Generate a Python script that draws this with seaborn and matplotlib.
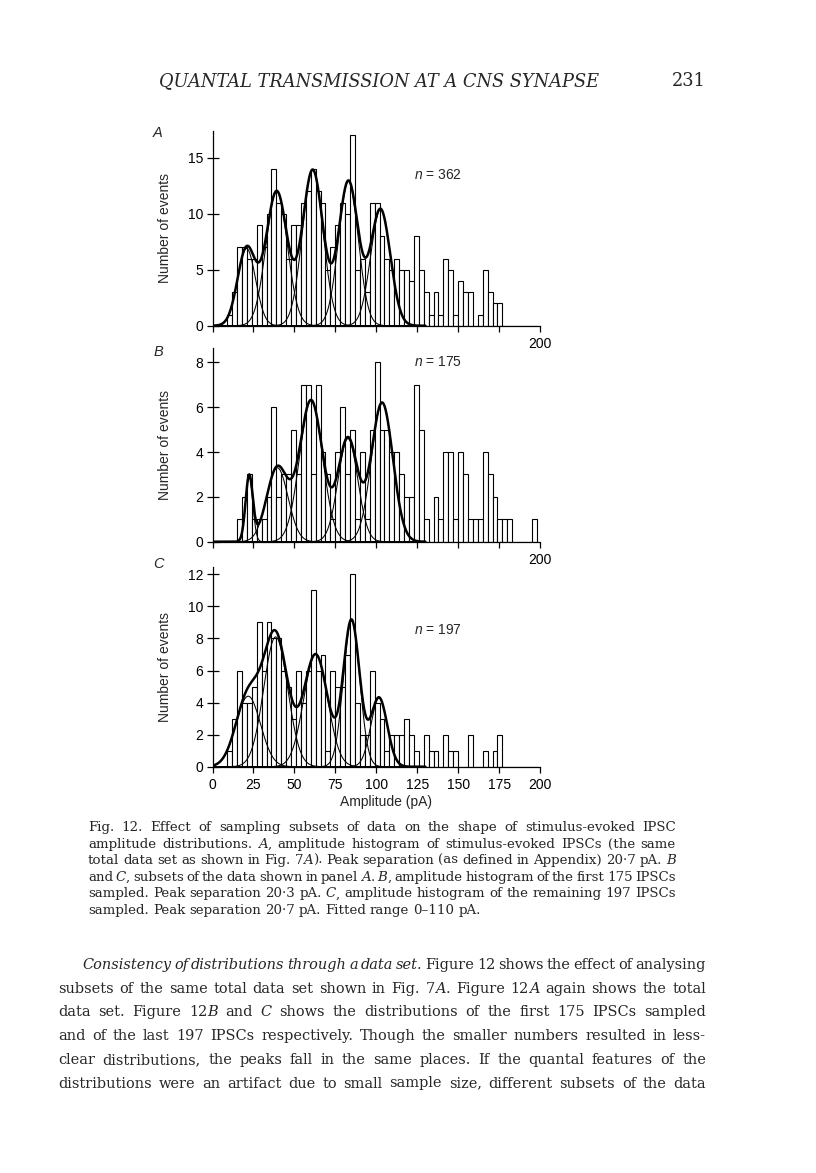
import numpy as np
import pandas as pd
import matplotlib
matplotlib.use("Agg")
import matplotlib.pyplot as plt
import seaborn as sns

W, H = 816, 1173

# ---- histogram data (3 pA bins, 0-198 pA) ----
bin_width = 3
bin_edges = np.arange(0, 201, bin_width)

counts_a = [0, 0, 0, 1, 3, 7, 7, 6, 6, 9, 7, 10, 14, 11, 10, 6, 9, 9, 11, 12,
            14, 12, 11, 5, 7, 9, 11, 10, 17, 5, 6, 3, 11, 11, 8, 6, 5, 6, 5, 5,
            4, 8, 5, 3, 1, 3, 1, 6, 5, 1, 4, 3, 3, 0, 1, 5, 3, 2, 2, 0,
            0, 0, 0, 0, 0, 0]
counts_b = [0, 0, 0, 0, 0, 1, 2, 3, 1, 1, 1, 2, 6, 2, 3, 3, 5, 3, 7, 7,
            3, 7, 4, 3, 1, 4, 6, 3, 5, 1, 4, 1, 5, 8, 5, 5, 4, 4, 3, 2,
            2, 7, 5, 1, 0, 2, 1, 4, 4, 1, 4, 3, 1, 1, 1, 4, 3, 2, 1, 1,
            1, 0, 0, 0, 0, 1]
counts_c = [0, 0, 0, 1, 3, 6, 4, 4, 5, 9, 6, 9, 8, 8, 6, 5, 3, 6, 4, 6,
            11, 6, 7, 1, 6, 5, 5, 7, 12, 4, 2, 2, 6, 4, 3, 1, 2, 2, 2, 3,
            2, 1, 0, 2, 1, 1, 0, 2, 1, 1, 0, 0, 2, 0, 0, 1, 0, 1, 2, 0,
            0, 0, 0, 0, 0, 0]

# ---- fitted gaussian components (mean pA, height, sd pA) ----
means_a = [20.8, 39.2, 61.2, 83.0, 102.6]
heights_a = [6.9, 12.0, 13.9, 12.9, 10.4]
sds_a = [5.5, 6.5, 6.3, 6.0, 6.0]

means_b = [22.4, 39.6, 60.2, 82.7, 103.6]
heights_b = [2.9, 3.3, 6.3, 4.6, 6.2]
sds_b = [2.2, 6.5, 7.0, 6.0, 6.5]

means_c = [21.8, 38.6, 63.0, 84.9, 101.7]
heights_c = [4.4, 8.1, 7.0, 9.1, 4.3]
sds_c = [7.5, 7.3, 7.3, 5.0, 5.0]

n_labels = ["362", "175", "197"]
panel_letters = ["A", "B", "C"]
x_ticks = [0, 25, 50, 75, 100, 125, 150, 175, 200]
y_ticks_a = [0, 5, 10, 15]
y_ticks_b = [0, 2, 4, 6, 8]
y_ticks_c = [0, 2, 4, 6, 8, 10, 12]

header = "QUANTAL TRANSMISSION AT A CNS SYNAPSE"
page_number = "231"

caption = [
    "Fig. 12. Effect of sampling subsets of data on the shape of stimulus-evoked IPSC",
    "amplitude distributions. *A*, amplitude histogram of stimulus-evoked IPSCs (the same",
    "total data set as shown in Fig. 7*A*). Peak separation (as defined in Appendix) 20·7 pA. *B*",
    "and *C*, subsets of the data shown in panel *A*. *B*, amplitude histogram of the first 175 IPSCs",
    "sampled. Peak separation 20·3 pA. *C*, amplitude histogram of the remaining 197 IPSCs",
    "sampled. Peak separation 20·7 pA. Fitted range 0–110 pA.",
]
body = [
    "*Consistency of distributions through a data set.* Figure 12 shows the effect of analysing",
    "subsets of the same total data set shown in Fig. 7*A*. Figure 12*A* again shows the total",
    "data set. Figure 12*B* and *C* shows the distributions of the first 175 IPSCs sampled",
    "and of the last 197 IPSCs respectively. Though the smaller numbers resulted in less-",
    "clear distributions, the peaks fall in the same places. If the quantal features of the",
    "distributions were an artifact due to small sample size, different subsets of the data",
]

sns.set_style("ticks")
plt.rcParams["font.family"] = ["Liberation Sans", "DejaVu Sans"]
plt.rcParams["mathtext.fontset"] = "custom"
plt.rcParams["mathtext.it"] = "Liberation Sans:italic"
plt.rcParams["mathtext.rm"] = "Liberation Sans"
plt.rcParams["axes.linewidth"] = 0.9

fig = plt.figure(figsize=(W / 100, H / 100), dpi=100)
fig.patch.set_facecolor("white")
renderer = fig.canvas.get_renderer()


def px_axes(left, right, top, bottom):
    return fig.add_axes([left / W, 1 - bottom / H, (right - left) / W, (bottom - top) / H])


def draw_panel(ax, counts, means, heights, sds, ymax, yticks, show_all_x):
    centers = bin_edges[:-1] + bin_width / 2
    df = pd.DataFrame({"amp": centers, "count": counts})
    sns.histplot(data=df, x="amp", weights="count", binwidth=bin_width,
                 binrange=(bin_edges[0], bin_edges[-1]), ax=ax,
                 color="white", edgecolor="black", linewidth=0.8, alpha=1)
    grid = np.linspace(0, 130, 600)
    total = np.zeros_like(grid)
    for m, h, s in zip(means, heights, sds):
        g = h * np.exp(-0.5 * ((grid - m) / s) ** 2)
        total += g
        ax.plot(grid, g, color="black", lw=0.75)
    ax.plot(grid, total, color="black", lw=1.8)

    ax.set_xlim(0, 200)
    ax.set_ylim(0, ymax)
    ax.set_xlabel("")
    ax.set_ylabel("")
    ax.set_xticks(x_ticks)
    if show_all_x:
        ax.set_xticklabels([str(t) for t in x_ticks])
    else:
        ax.set_xticklabels([""] * (len(x_ticks) - 1) + ["200"])
    ax.set_yticks(yticks)
    ax.tick_params(axis="y", direction="inout", length=9, width=0.9, pad=2,
                   labelsize=10, colors="black")
    ax.tick_params(axis="x", direction="out", length=4, width=0.9, pad=4,
                   labelsize=10, colors="black")
    ax.set_facecolor("none")
    for side in ["top", "right"]:
        ax.spines[side].set_visible(False)
    ax.spines["left"].set_color("black")
    ax.spines["bottom"].set_color("black")


ax_a = px_axes(212.5, 540, 131, 325.7)
draw_panel(ax_a, counts_a, means_a, heights_a, sds_a, 17.4, y_ticks_a, False)
ax_b = px_axes(212.5, 540, 348, 541.7)
draw_panel(ax_b, counts_b, means_b, heights_b, sds_b, 8.64, y_ticks_b, False)
ax_c = px_axes(212.5, 540, 567, 766.7)
draw_panel(ax_c, counts_c, means_c, heights_c, sds_c, 12.46, y_ticks_c, True)

# panel annotations
for ax, n, (top, bottom, ny) in zip([ax_a, ax_b, ax_c], n_labels,
                                    [(131, 325.7, 175), (348, 541.7, 362), (567, 766.7, 630)]):
    ax.text(0.69, (bottom - ny) / (bottom - top), "$n$ = " + n, transform=ax.transAxes,
            ha="center", va="center", fontsize=10)

for letter, y in zip(panel_letters, [133, 352, 564]):
    fig.text(158 / W, 1 - y / H, letter, ha="center", va="center", fontsize=10.5, style="italic")
for y in [228, 445, 667]:
    fig.text(165 / W, 1 - y / H, "Number of events", rotation=90, ha="center",
             va="center", fontsize=10)
fig.text(386 / W, 1 - 802 / H, "Amplitude (pA)", ha="center", va="center", fontsize=10)


# ---- page text (justified lines, '*' toggles italic) ----
def parse(line):
    words, cur, buf, italic = [], [], "", False
    for ch in line:
        if ch == "*":
            if buf:
                cur.append((buf, italic))
                buf = ""
            italic = not italic
        elif ch == " ":
            if buf:
                cur.append((buf, italic))
                buf = ""
            if cur:
                words.append(cur)
                cur = []
        else:
            buf += ch
    if buf:
        cur.append((buf, italic))
    if cur:
        words.append(cur)
    return words


def seg_width(text, size, italic, family):
    t = fig.text(0, 0, text, fontsize=size, style="italic" if italic else "normal",
                 family=family)
    w = t.get_window_extent(renderer).width
    t.remove()
    return w


def natural_width(line, size, family, space_em=0.2):
    words = parse(line)
    tot = sum(seg_width(s, size, it, family) for w in words for s, it in w)
    return tot + space_em * size * 100 / 72 * (len(words) - 1)


def set_line(line, x0, x1, y, size, family, justify=True):
    words = parse(line)
    widths = [[seg_width(s, size, it, family) for s, it in w] for w in words]
    total = sum(sum(w) for w in widths)
    space = 0.3 * size * 100 / 72
    if justify and len(words) > 1:
        space = (x1 - x0 - total) / (len(words) - 1)
    x = x0
    for w, ws in zip(words, widths):
        for (s, it), sw in zip(w, ws):
            fig.text(x / W, 1 - y / H, s, fontsize=size, family=family,
                     style="italic" if it else "normal", va="baseline", ha="left")
            x += sw
        x += space


serif = ["DejaVu Serif"]

# running head: one string, size fitted to its printed width
hdr_size = 10 * (600 - 159) / seg_width(header, 10, True, serif)
fig.text(159 / W, 1 - 86 / H, header, fontsize=hdr_size, family=serif, style="italic",
         ha="left", va="baseline")
fig.text(706 / W, 1 - 86 / H, page_number, fontsize=hdr_size, family=serif,
         ha="right", va="baseline")

cap_x0, cap_x1 = 88, 676
cap_size = 10 * min((cap_x1 - cap_x0) / natural_width(l, 10, serif) for l in caption[:-1])
for i, line in enumerate(caption):
    set_line(line, cap_x0, cap_x1, 831 + i * 16.6, cap_size, serif,
             justify=i < len(caption) - 1)

body_x0, body_x1, indent = 58, 706, 24
body_size = 10 * min((body_x1 - body_x0 - (indent if i == 0 else 0))
                     / natural_width(l, 10, serif) for i, l in enumerate(body))
for i, line in enumerate(body):
    set_line(line, body_x0 + (indent if i == 0 else 0), body_x1, 969 + i * 23.7,
             body_size, serif, justify=True)

fig.savefig("out.png", dpi=100, facecolor="white")
